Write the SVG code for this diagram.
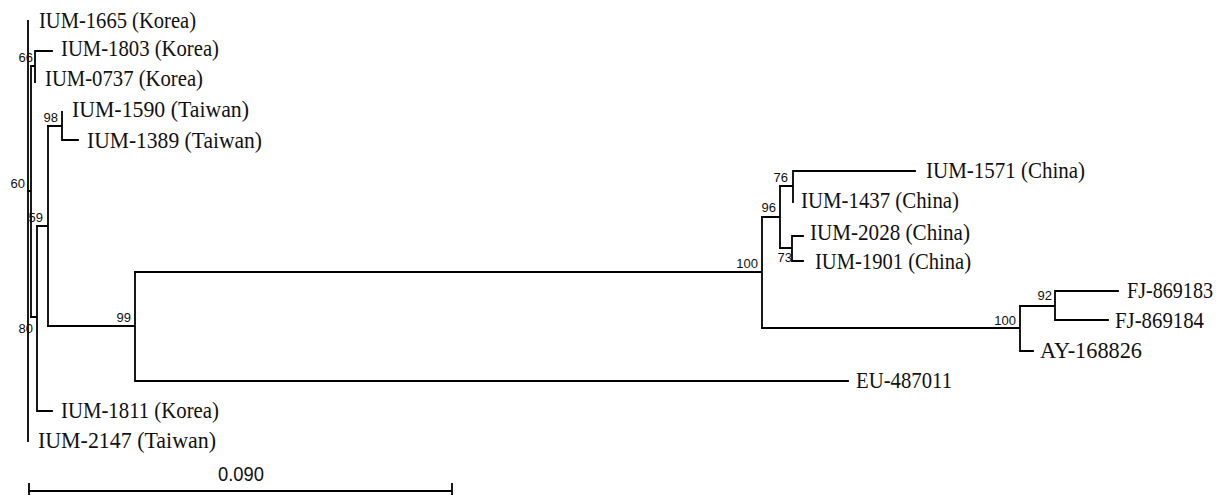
<svg xmlns="http://www.w3.org/2000/svg" width="1224" height="495" viewBox="0 0 1224 495">
<style>
.br{fill:none;stroke:#000;stroke-width:1.8;stroke-linecap:square}
.lf{font-family:"Liberation Serif","Times New Roman",serif;font-size:23px;fill:#111}
.bs{font-family:"Liberation Sans",Arial,sans-serif;font-size:13px;fill:#111;text-anchor:end}
.sc{font-family:"Liberation Sans",Arial,sans-serif;font-size:20px;fill:#111;text-anchor:middle}
</style>
<rect width="1224" height="495" fill="#fff"/>
<g id="connectors" class="br">
<path d="M28,21 V441"/>
<path d="M28,191 H31 M31,66 V317"/>
<path d="M31,66 H35 M35,51 V82 M35,51 H52"/>
<path d="M31,317 H37 M37,226 V411 M37,411 H52"/>
<path d="M37,226 H48 M48,126 V326"/>
<path d="M48,126 H62 M62,112 V140 M62,140 H78"/>
<path d="M48,326 H135 M135,272 V381 M135,381 H848"/>
<path d="M135,272 H762 M762,217 V328"/>
<path d="M762,217 H780 M780,186 V248"/>
<path d="M780,186 H793 M793,171 V202 M793,171 H915"/>
<path d="M780,248 H792 M792,236 V261 M792,236 H803 M792,261 H803"/>
<path d="M762,328 H1020 M1020,306 V351 M1020,351 H1033"/>
<path d="M1020,306 H1055 M1055,291 V320 M1055,291 H1118 M1055,320 H1108"/>
</g>
<g id="leaf-IUM-1665"><text class="lf" x="39" y="28" textLength="157" lengthAdjust="spacingAndGlyphs">IUM-1665 (Korea)</text></g>
<g id="leaf-IUM-1803"><text class="lf" x="61" y="56" textLength="158" lengthAdjust="spacingAndGlyphs">IUM-1803 (Korea)</text></g>
<g id="leaf-IUM-0737"><text class="lf" x="45" y="86" textLength="158" lengthAdjust="spacingAndGlyphs">IUM-0737 (Korea)</text></g>
<g id="leaf-IUM-1590"><text class="lf" x="72" y="117" textLength="177" lengthAdjust="spacingAndGlyphs">IUM-1590 (Taiwan)</text></g>
<g id="leaf-IUM-1389"><text class="lf" x="87" y="148" textLength="175" lengthAdjust="spacingAndGlyphs">IUM-1389 (Taiwan)</text></g>
<g id="leaf-IUM-1571"><text class="lf" x="926" y="178" textLength="159" lengthAdjust="spacingAndGlyphs">IUM-1571 (China)</text></g>
<g id="leaf-IUM-1437"><text class="lf" x="801" y="208" textLength="158" lengthAdjust="spacingAndGlyphs">IUM-1437 (China)</text></g>
<g id="leaf-IUM-2028"><text class="lf" x="810" y="240" textLength="160" lengthAdjust="spacingAndGlyphs">IUM-2028 (China)</text></g>
<g id="leaf-IUM-1901"><text class="lf" x="815" y="269" textLength="156" lengthAdjust="spacingAndGlyphs">IUM-1901 (China)</text></g>
<g id="leaf-FJ-869183"><text class="lf" x="1127" y="298" textLength="86" lengthAdjust="spacingAndGlyphs">FJ-869183</text></g>
<g id="leaf-FJ-869184"><text class="lf" x="1115" y="328" textLength="89" lengthAdjust="spacingAndGlyphs">FJ-869184</text></g>
<g id="leaf-AY-168826"><text class="lf" x="1040" y="358" textLength="102" lengthAdjust="spacingAndGlyphs">AY-168826</text></g>
<g id="leaf-EU-487011"><text class="lf" x="856" y="388" textLength="96" lengthAdjust="spacingAndGlyphs">EU-487011</text></g>
<g id="leaf-IUM-1811"><text class="lf" x="61" y="418" textLength="158" lengthAdjust="spacingAndGlyphs">IUM-1811 (Korea)</text></g>
<g id="leaf-IUM-2147"><text class="lf" x="38" y="448" textLength="178" lengthAdjust="spacingAndGlyphs">IUM-2147 (Taiwan)</text></g>
<g id="bootstrap">
<text class="bs" x="33" y="62">66</text>
<text class="bs" x="58" y="122">98</text>
<text class="bs" x="25" y="188">60</text>
<text class="bs" x="43" y="222">59</text>
<text class="bs" x="33" y="333">80</text>
<text class="bs" x="131" y="322">99</text>
<text class="bs" x="758" y="268">100</text>
<text class="bs" x="788" y="182">76</text>
<text class="bs" x="776" y="212">96</text>
<text class="bs" x="792" y="262">73</text>
<text class="bs" x="1016" y="325">100</text>
<text class="bs" x="1052" y="300">92</text>
</g>
<g id="scale-bar">
<path class="br" d="M29,491 H452 M29,484 V494 M452,484 V494"/>
<text class="sc" x="241" y="481" textLength="46" lengthAdjust="spacingAndGlyphs">0.090</text>
</g>
</svg>
